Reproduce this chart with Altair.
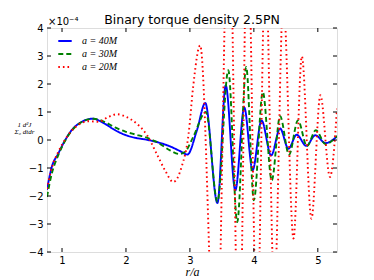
import altair as alt
import pandas as pd

series_names = ["a = 40M", "a = 30M", "a = 20M"]
series_colors = ["#0000ff", "#008000", "#ff0000"]
series_dashes = [[1, 0], [5, 3], [1.6, 3]]

# a = 40M (blue, solid)
x_40 = [0.765, 0.84, 0.94, 1.05, 1.15, 1.26, 1.48, 1.67, 1.83, 1.99, 2.14, 2.30, 2.48, 2.69,
        2.85, 2.96, 3.11, 3.24, 3.43, 3.56, 3.71, 3.85, 3.98, 4.12, 4.27, 4.41, 4.54, 4.67,
        4.82, 4.96, 5.12, 5.30]
y_40 = [-1.78, -0.96, -0.49, 0.0, 0.35, 0.58, 0.76, 0.58, 0.35, 0.18, 0.08, 0.02, -0.07, -0.23,
        -0.40, -0.52, 0.35, 1.32, -2.25, 1.95, -1.80, 1.16, -1.08, 0.70, -0.55, 0.41, -0.31, 0.19,
        -0.21, 0.17, -0.11, 0.13]

# a = 30M (green, dashed)
x_30 = [0.765, 0.84, 0.94, 1.05, 1.15, 1.26, 1.49, 1.67, 1.83, 1.99, 2.14, 2.30, 2.48, 2.69,
        2.83, 2.92, 3.05, 3.25, 3.43, 3.60, 3.74, 3.88, 4.00, 4.14, 4.28, 4.41, 4.55, 4.69,
        4.83, 4.97, 5.12, 5.30]
y_30 = [-2.03, -1.20, -0.55, -0.02, 0.33, 0.57, 0.76, 0.64, 0.45, 0.30, 0.20, 0.10, -0.07, -0.37,
        -0.50, -0.43, 0.10, 1.00, -2.20, 2.49, -2.93, 2.61, -2.15, 1.71, -1.44, 0.85, -0.52, 0.70,
        -0.22, 0.35, -0.15, 0.15]

# a = 20M (red, dotted)
x_20 = [0.765, 0.84, 0.94, 1.05, 1.15, 1.26, 1.41, 1.57, 1.72, 1.86, 2.01, 2.17, 2.33, 2.48,
        2.61, 2.74, 2.87, 2.98, 3.05, 3.16, 3.41, 3.61, 3.77, 3.90, 4.05, 4.18, 4.32, 4.46,
        4.62, 4.75, 4.90, 5.04, 5.19, 5.30]
y_20 = [-1.75, -1.00, -0.43, 0.02, 0.33, 0.55, 0.67, 0.65, 0.82, 0.92, 0.82, 0.58, 0.17, -0.49,
        -1.08, -1.50, -0.96, 0.23, 1.89, 3.38, -9.0, 9.0, -8.5, 8.0, -7.0, 6.5, -5.5, 5.0,
        -3.52, 2.99, -2.81, 1.60, -1.32, 1.12]

x_ticks = [1, 2, 3, 4, 5]
y_ticks = [-4, -3, -2, -1, 0, 1, 2, 3, 4]
x_domain = [0.765, 5.3]
y_domain = [-4, 4]

rows = []
for k, (name, xs, ys) in enumerate(zip(series_names, [x_40, x_30, x_20], [y_40, y_30, y_20])):
    for xv, yv in zip(xs, ys):
        rows.append({"series": name, "order": k, "r": xv, "v": yv})
df = pd.DataFrame(rows)
xt = pd.DataFrame({"r": x_ticks})
yt = pd.DataFrame({"v": y_ticks})

W, H = 290, 224
TL = 4  # inward tick length

xscale = alt.Scale(domain=x_domain, nice=False, zero=False)
yscale = alt.Scale(domain=y_domain, nice=False, zero=False)

legend = alt.Legend(
    title=None, orient="none", legendX=10, legendY=5, symbolType="stroke",
    symbolSize=180, symbolStrokeWidth=2, labelFont="Liberation Serif",
    labelFontStyle="italic", labelFontSize=10, labelColor="black", labelOffset=9,
    rowPadding=0, padding=0, symbolOpacity=1,
)

x_axis = alt.Axis(
    values=x_ticks, ticks=False, labelPadding=3, domain=False, grid=False,
    labelFont="DejaVu Sans", labelFontSize=10, labelColor="black",
    labelFlush=False, title="r/a", titleFont="Liberation Serif", titleFontStyle="italic",
    titleFontWeight="normal", titleFontSize=12, titleColor="black", titleX=W / 2, titleY=23,
    titleBaseline="alphabetic", titleAlign="center",
)
y_axis = alt.Axis(
    values=y_ticks, ticks=False, labelPadding=4, domain=False, grid=False,
    labelFont="DejaVu Sans", labelFontSize=10, labelColor="black",
    labelFlush=False, title=["1   d²J", "Σ₀ dtdr"], titleAngle=0, titleFont="Liberation Serif",
    titleFontStyle="italic", titleFontWeight="normal", titleFontSize=7, titleLineHeight=7,
    titleColor="black", titleX=-23, titleY=96, titleAlign="center", titleBaseline="middle",
)

lines = alt.Chart(df).mark_line(clip=True, strokeWidth=1.9, interpolate="monotone").encode(
    x=alt.X("r:Q", scale=xscale, axis=x_axis),
    y=alt.Y("v:Q", scale=yscale, axis=y_axis),
    color=alt.Color("series:N", scale=alt.Scale(domain=series_names, range=series_colors), legend=legend),
    strokeDash=alt.StrokeDash("series:N", scale=alt.Scale(domain=series_names, range=series_dashes), legend=legend),
)

tick_style = dict(color="black", strokeWidth=1)
bottom_ticks = alt.Chart(xt).mark_rule(**tick_style).encode(
    x=alt.X("r:Q", scale=xscale, axis=x_axis), y=alt.value(H), y2=alt.value(H - TL))
top_ticks = alt.Chart(xt).mark_rule(**tick_style).encode(
    x=alt.X("r:Q", scale=xscale, axis=x_axis), y=alt.value(0), y2=alt.value(TL))
left_ticks = alt.Chart(yt).mark_rule(**tick_style).encode(
    y=alt.Y("v:Q", scale=yscale, axis=y_axis), x=alt.value(0), x2=alt.value(TL))
right_ticks = alt.Chart(yt).mark_rule(**tick_style).encode(
    y=alt.Y("v:Q", scale=yscale, axis=y_axis), x=alt.value(W - TL), x2=alt.value(W))

offset_text = alt.Chart(pd.DataFrame({"t": ["×10⁻⁴"]})).mark_text(
    align="left", baseline="alphabetic", font="DejaVu Sans", fontSize=10, color="black"
).encode(x=alt.value(1), y=alt.value(-3), text="t:N")

chart = alt.layer(lines, bottom_ticks, top_ticks, left_ticks, right_ticks, offset_text).properties(
    width=W, height=H,
    title=alt.TitleParams("Binary torque density 2.5PN", anchor="middle", fontSize=12.5,
                          font="DejaVu Sans", fontWeight="normal", color="black", offset=-9,
                          frame="group"),
    autosize="none",
    padding={"left": 39, "top": 20, "right": 20, "bottom": 27},
).configure_view(stroke="black", strokeWidth=1).configure(background="white")

chart.save("out.html", embed_options={"renderer": "svg", "actions": False})
